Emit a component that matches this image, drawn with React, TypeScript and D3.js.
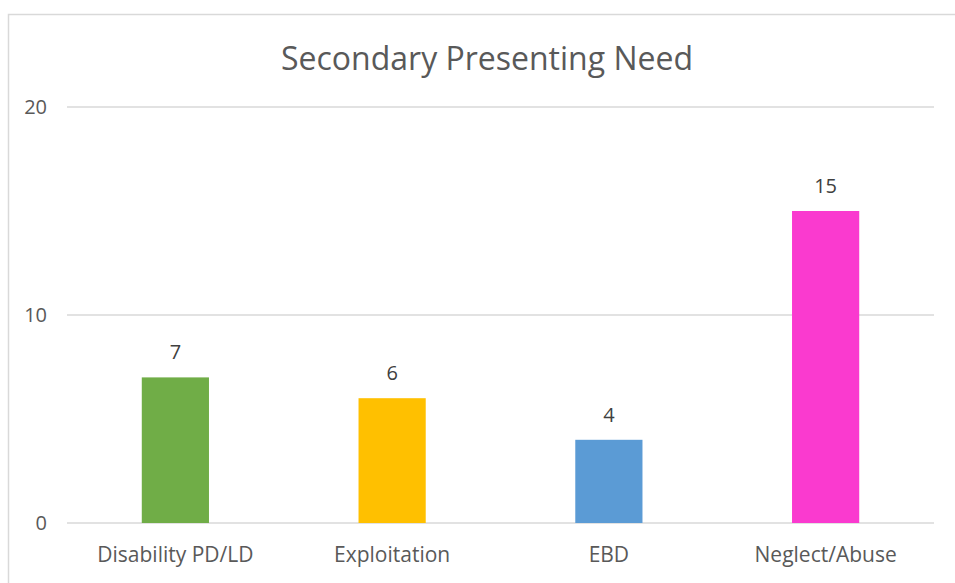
import React from "react";
import * as d3 from "d3";

const categories = ["Disability PD/LD", "Exploitation", "EBD", "Neglect/Abuse"];
const values = [7, 6, 4, 15];
const colors = ["#70AD47", "#FFC000", "#5B9BD5", "#FA3ACF"];
const yTicks = [0, 10, 20];
const title = "Secondary Presenting Need";

export default function App() {
  const W = 955, H = 583;
  const left = 67, right = 934, top = 107, bottom = 523;
  const x = d3.scaleBand<string>().domain(categories).range([left, right]).paddingInner(0.69).paddingOuter(0.345);
  const y = d3.scaleLinear().domain([0, 20]).range([bottom, top]);
  const font = "'Open Sans', sans-serif";
  return (
    <svg width={W} height={H} style={{ position: "absolute", left: 0, top: 0 }}>
      <rect x={0} y={0} width={W} height={H} fill="#fff" />
      <rect x={8.5} y={14.5} width={1000} height={700} fill="#fff" stroke="#D9D9D9" strokeWidth={1.5} />
      <text x={487} y={70} textAnchor="middle" fontFamily={font} fontSize={32} fill="#595959">{title}</text>
      {yTicks.map(t => (
        <g key={t}>
          <line x1={left} x2={right} y1={y(t)} y2={y(t)} stroke="#D9D9D9" strokeWidth={1.5} />
          <text x={47} y={y(t) + 7} textAnchor="end" fontFamily={font} fontSize={20} fill="#595959">{t}</text>
        </g>
      ))}
      {categories.map((c, i) => (
        <g key={c}>
          <rect x={x(c)} y={y(values[i])} width={x.bandwidth()} height={y(0) - y(values[i])} fill={colors[i]} />
          <text x={(x(c) as number) + x.bandwidth() / 2} y={y(values[i]) - 18} textAnchor="middle" fontFamily={font} fontSize={20} fill="#404040">{values[i]}</text>
          <text x={(x(c) as number) + x.bandwidth() / 2} y={562} textAnchor="middle" fontFamily={font} fontSize={21} fill="#595959">{c}</text>
        </g>
      ))}
    </svg>
  );
}
